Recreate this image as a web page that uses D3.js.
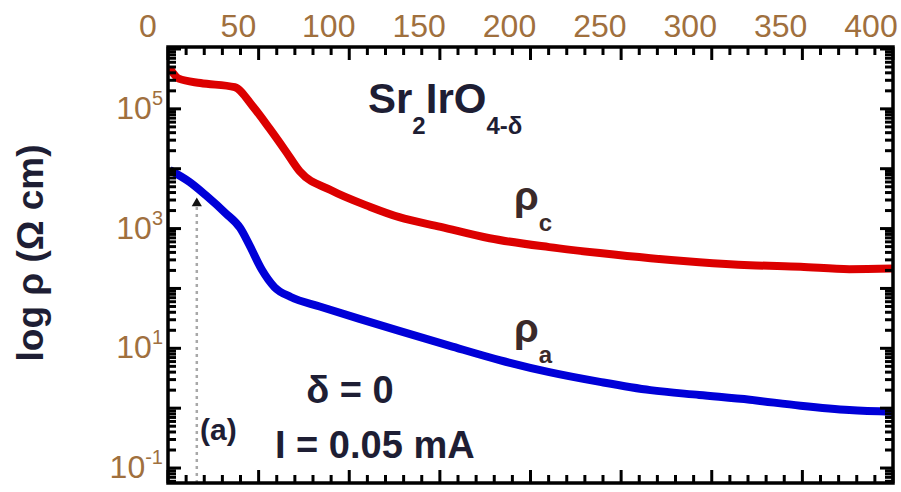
<!DOCTYPE html>
<html>
<head>
<meta charset="utf-8">
<script src="https://cdn.jsdelivr.net/npm/d3@7"></script>
<style>
  body { margin: 0; background: #fff; }
  svg { display: block; }
  text { font-family: "Liberation Sans", Arial, sans-serif; }
</style>
</head>
<body>
<svg id="chart" width="901" height="492"></svg>
<script>
// Sr2IrO4-δ (δ = 0), I = 0.05 mA : resistivity along c and along a vs temperature

// ρc : temperature (K) and resistivity (Ω cm)
const tempC = [12, 17, 29, 48, 58, 67, 76, 84, 101, 123, 139, 162, 189, 222, 250, 278, 305, 333, 361, 388, 412];
const rhoC  = [4.8e5, 3.2e5, 2.7e5, 2.3e5, 1.1e5, 4.8e4, 2.0e4, 9.0e3, 4.4e3, 2.3e3, 1.55e3, 1.07e3,
               690, 490, 390, 320, 275, 245, 230, 210, 215];

// ρa : temperature (K) and resistivity (Ω cm)
const tempA = [12, 23, 32, 43, 51, 56, 63, 70, 79, 95, 117, 139, 167, 195, 222, 250, 278, 305, 333, 361, 388, 412];
const rhoA  = [9.5e3, 6.0e3, 3.6e3, 1.8e3, 1.02e3, 540, 205, 105, 72, 50, 31, 19.5, 11, 6.3, 4.0,
               2.75, 2.0, 1.66, 1.38, 1.10, 0.93, 0.87];

// marked temperature (dotted arrow)
const markerTemp = 27;
const markerRho = 3.2e3;

// tick labels
const xTickLabels = [0, 50, 100, 150, 200, 250, 300, 350, 400];
const yTickExponents = [5, 3, 1, -1];

const svg = d3.select("#chart");

// plot frame
const frame = { left: 168, right: 893, top: 47, bottom: 483 };

// temperature scale used by the labels and the data
const x = d3.scaleLinear().domain([0, 400]).range([148, 871]);
// temperature scale of the tick marks on the frame
const xFrame = d3.scaleLinear().domain([0, 400]).range([frame.left, frame.right]);
// resistivity (log)
const y = d3.scaleLog().domain([Math.pow(10, -1.25), Math.pow(10, 6.05)]).range([frame.bottom, frame.top - 1]);

svg.append("defs").append("clipPath").attr("id", "plotClip")
  .append("rect")
  .attr("x", frame.left).attr("y", frame.top)
  .attr("width", frame.right - frame.left).attr("height", frame.bottom - frame.top);

// --- curves ---
const line = d3.line().x(d => x(d[0])).y(d => y(d[1])).curve(d3.curveMonotoneX);
const plot = svg.append("g").attr("clip-path", "url(#plotClip)");

plot.append("path")
  .datum(d3.zip(tempC, rhoC))
  .attr("d", line)
  .attr("fill", "none")
  .attr("stroke", "#dc0000")
  .attr("stroke-width", 8)
  .attr("stroke-linejoin", "round");

plot.append("path")
  .datum(d3.zip(tempA, rhoA))
  .attr("d", line)
  .attr("fill", "none")
  .attr("stroke", "#0000d8")
  .attr("stroke-width", 8)
  .attr("stroke-linejoin", "round");

// dotted marker line with arrowhead
plot.append("line")
  .attr("x1", x(markerTemp)).attr("x2", x(markerTemp))
  .attr("y1", frame.bottom).attr("y2", y(markerRho) + 8)
  .attr("stroke", "#a8a8a8")
  .attr("stroke-width", 2.5)
  .attr("stroke-dasharray", "3,4");
plot.append("path")
  .attr("d", d3.symbol(d3.symbolTriangle, 45)())
  .attr("transform", `translate(${x(markerTemp)},${y(markerRho) + 5})`)
  .attr("fill", "#111");

// --- frame and ticks ---
const ticks = svg.append("g").attr("stroke", "#000").attr("stroke-width", 3);

d3.range(0, 401, 10).forEach(v => {
  const len = v % 50 === 0 ? 13 : 8;
  ticks.append("line").attr("x1", xFrame(v)).attr("x2", xFrame(v))
    .attr("y1", frame.top).attr("y2", frame.top + len);
  ticks.append("line").attr("x1", xFrame(v)).attr("x2", xFrame(v))
    .attr("y1", frame.bottom).attr("y2", frame.bottom - len);
});

const [ymin, ymax] = y.domain();
for (let d = -2; d <= 6; d++) {
  for (let m = 1; m <= 9; m++) {
    const v = m * Math.pow(10, d);
    if (v < ymin || v > ymax) continue;
    const len = m === 1 ? 13 : 8;
    ticks.append("line").attr("x1", frame.left).attr("x2", frame.left + len)
      .attr("y1", y(v)).attr("y2", y(v));
    ticks.append("line").attr("x1", frame.right).attr("x2", frame.right - len)
      .attr("y1", y(v)).attr("y2", y(v));
  }
}

svg.append("rect")
  .attr("x", frame.left).attr("y", frame.top)
  .attr("width", frame.right - frame.left).attr("height", frame.bottom - frame.top)
  .attr("fill", "none").attr("stroke", "#000").attr("stroke-width", 3.5);

// --- tick labels ---
const labelColor = "#a0703e";

svg.append("g").selectAll("text")
  .data(xTickLabels)
  .join("text")
  .attr("x", d => x(d))
  .attr("y", 37)
  .attr("text-anchor", "middle")
  .attr("font-size", 32)
  .attr("fill", labelColor)
  .text(d => d);

const yl = svg.append("g").selectAll("text")
  .data(yTickExponents)
  .join("text")
  .attr("x", 163)
  .attr("y", d => y(Math.pow(10, d)) + 10)
  .attr("text-anchor", "end")
  .attr("font-size", 32)
  .attr("fill", labelColor);
yl.append("tspan").text("10");
yl.append("tspan").attr("font-size", 20).attr("dy", -14).text(d => d);

// axis title
svg.append("text")
  .attr("transform", "translate(43,253) rotate(-90)")
  .attr("text-anchor", "middle")
  .attr("font-size", 37)
  .attr("font-weight", "bold")
  .attr("fill", "#1e1e34")
  .text("log ρ (Ω cm)");

// --- annotations ---
const ink = "#1e1e34";
const formula = svg.append("text")
  .attr("x", 368).attr("y", 113)
  .attr("font-size", 42).attr("font-weight", "bold").attr("fill", ink);
formula.append("tspan").text("Sr");
formula.append("tspan").attr("font-size", 24).attr("dy", 21).text("2");
formula.append("tspan").attr("dy", -21).text("IrO");
formula.append("tspan").attr("font-size", 24).attr("dy", 21).text("4-δ");

const rc = svg.append("text")
  .attr("x", 514).attr("y", 210)
  .attr("font-size", 40).attr("font-weight", "bold").attr("fill", "#3a2a2a");
rc.append("tspan").text("ρ");
rc.append("tspan").attr("font-size", 24).attr("dy", 21).text("c");

const ra = svg.append("text")
  .attr("x", 514).attr("y", 342)
  .attr("font-size", 40).attr("font-weight", "bold").attr("fill", "#3a2a2a");
ra.append("tspan").text("ρ");
ra.append("tspan").attr("font-size", 24).attr("dy", 21).text("a");

svg.append("text")
  .attr("x", 350).attr("y", 403)
  .attr("text-anchor", "middle")
  .attr("font-size", 38).attr("font-weight", "bold").attr("fill", ink)
  .text("δ = 0");

svg.append("text")
  .attr("x", 275).attr("y", 458)
  .attr("font-size", 38).attr("font-weight", "bold").attr("fill", ink)
  .text("I = 0.05 mA");

svg.append("text")
  .attr("x", 200).attr("y", 440)
  .attr("font-size", 30).attr("font-weight", "bold").attr("fill", ink)
  .text("(a)");
</script>
</body>
</html>
